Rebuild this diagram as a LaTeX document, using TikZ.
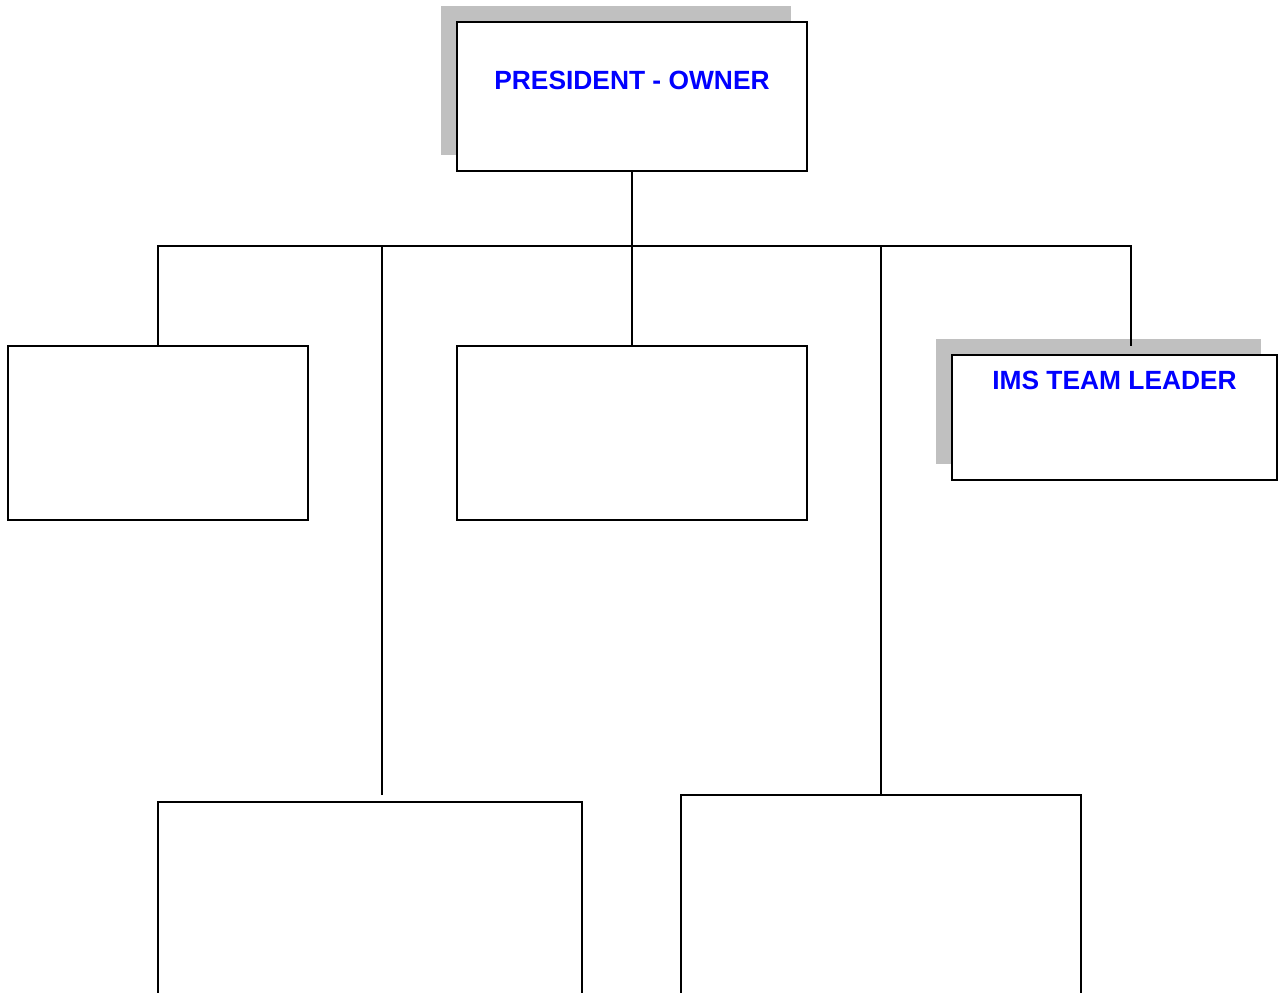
\documentclass[tikz,border=0pt]{standalone}
\usepackage{fontspec}
\setmainfont{Liberation Sans}
\usepackage{tikz}
\usetikzlibrary{positioning,shadows}
\definecolor{shadegray}{RGB}{192,192,192}
\definecolor{ttlblue}{RGB}{0,0,255}
\tikzset{
  post/.style={draw, rectangle, fill=white, line width=1.1pt, inner sep=0pt},
  shd/.style={drop shadow={shadow xshift=#1, shadow yshift=0.32cm, fill=shadegray, opacity=1}},
  ttl/.style={font=\fontsize{15}{18}\selectfont\bfseries, text=ttlblue, inner sep=0pt},
  con/.style={line width=1.1pt}
}
\begin{document}
\begin{tikzpicture}[x=0.02cm, y=-0.02cm]
  \useasboundingbox (0,0) rectangle (1285,992);
  \clip (0,0) rectangle (1285,992);
  % top level
  \node[post, shd=-0.32cm, minimum width=7cm, minimum height=2.98cm] (pres) at (632,96.5) {};
  \node[ttl] (presttl) at ([yshift=-1.18cm]pres.north) {PRESIDENT - OWNER};
  % second level
  \node[post, minimum width=6cm, minimum height=3.48cm] (lft) at (158,433) {};
  \node[post, minimum width=7cm, minimum height=3.48cm] (mid) at (632,433) {};
  \node[post, shd=-0.32cm, minimum width=6.5cm, minimum height=2.5cm] (ims) at (1114.5,417.5) {};
  \node[ttl] (imsttl) at ([yshift=-0.52cm]ims.north) {IMS TEAM LEADER};
  % bottom level
  \node[post, minimum width=8.48cm, minimum height=6cm] (bl) at (370,952) {};
  \node[post, minimum width=8cm, minimum height=6cm] (br) at (881,945) {};
  % connectors
  \coordinate (bus) at (632,246);
  \coordinate (blend) at (382,795);
  \coordinate (imsend) at (1131,346);
  \draw[con] (pres.south) -- (bus);
  \draw[con] (lft.north) |- (bus) -| (imsend);
  \draw[con] (blend) -- (blend |- bus);
  \draw[con] (bus) -- (mid.north);
  \draw[con] (br.north) -- (br.north |- bus);
\end{tikzpicture}
\end{document}
